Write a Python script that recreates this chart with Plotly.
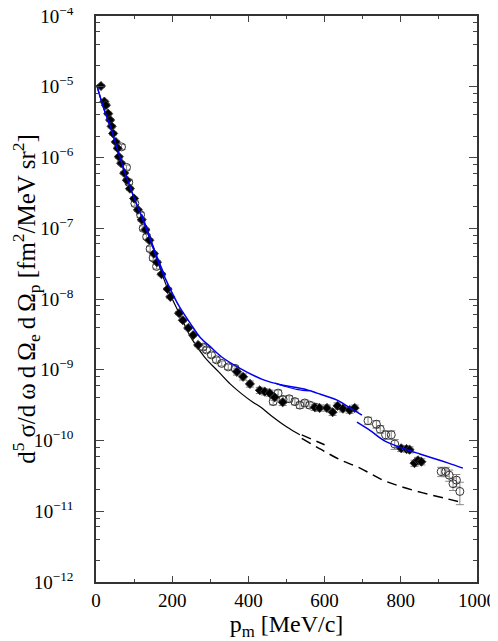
import plotly.graph_objects as go

# theory curves (log10 of cross section)
blue_p = [2, 20, 40, 60, 81, 100, 123, 145, 165, 194, 220, 247, 273, 299, 330, 378, 438, 491, 543, 580, 633, 667, 698]
blue_lg = [-4.98, -5.3, -5.6, -5.95, -6.29, -6.57, -6.88, -7.2, -7.5, -7.85, -8.12, -8.34, -8.54, -8.67, -8.82,
           -8.98, -9.14, -9.22, -9.27, -9.33, -9.43, -9.54, -9.64]
blue2_p = [120, 140, 160, 180]
blue2_lg = [-6.8, -7.1, -7.4, -7.66]
blue3_p = [470, 500, 530, 560]
blue3_lg = [-9.19, -9.24, -9.28, -9.3]
blue4_p = [685, 720, 753, 785, 816, 850, 885, 925, 963]
blue4_lg = [-9.74, -9.86, -9.99, -10.07, -10.13, -10.19, -10.25, -10.32, -10.39]

black_p = [2, 20, 40, 60, 81, 100, 123, 145, 165, 190, 220, 251, 285, 322, 352, 380, 412, 430, 460, 501, 535]
black_lg = [-4.98, -5.3, -5.6, -5.95, -6.29, -6.57, -6.88, -7.2, -7.52, -7.88, -8.22, -8.56, -8.82, -9.03, -9.2,
            -9.33, -9.46, -9.52, -9.65, -9.81, -9.92]
dash_p = [540, 592, 640, 693, 753, 806, 858, 911, 963]
dash_lg = [-9.97, -10.13, -10.27, -10.39, -10.56, -10.66, -10.74, -10.81, -10.88]
dash2_p = [540, 600]
dash2_lg = [-9.92, -10.06]

# data: filled diamonds
dia_p = [13, 22, 26, 32, 37, 41, 45, 52, 57, 60, 66, 74, 81, 89, 100, 110, 120, 130, 140, 152, 160, 172, 188, 195,
         218, 228, 242, 255, 268,
         370, 386, 404, 430, 443, 456, 469, 490, 574, 587, 606, 621, 634, 648, 666, 679,
         801, 815, 823, 836, 845, 854]
dia_lg = [-4.99, -5.21, -5.26, -5.38, -5.47, -5.56, -5.66, -5.78, -5.87, -5.99, -6.08, -6.22, -6.32, -6.44, -6.58,
          -6.74, -6.88, -7.02, -7.17, -7.36, -7.48, -7.65, -7.86, -7.97, -8.2, -8.3, -8.41, -8.51, -8.65,
          -9.03, -9.1, -9.2, -9.29, -9.31, -9.33, -9.39, -9.46, -9.53, -9.54, -9.54, -9.6, -9.51, -9.55, -9.57, -9.54,
          -10.11, -10.12, -10.13, -10.32, -10.28, -10.3]
dia_err = [5] * 29 + [10] * 16 + [10] * 6  # percent

# data: open circles
circ_p = [67, 80, 86, 102, 117, 124, 133, 142, 150, 159, 281, 290, 303, 316, 330, 347, 365,
          465, 478, 491, 507, 522, 535, 548, 561, 577,
          714, 736, 746, 760, 775, 784, 906, 918, 927, 937, 946, 955]
circ_lg = [-5.85, -6.14, -6.35, -6.65, -6.81, -7.0, -7.12, -7.29, -7.42, -7.54, -8.68, -8.72, -8.79, -8.86, -8.91,
           -8.96, -8.98,
           -9.45, -9.33, -9.42, -9.41, -9.45, -9.5, -9.47, -9.5, -9.53,
           -9.72, -9.77, -9.84, -9.92, -9.92, -10.05, -10.44, -10.44, -10.49, -10.61, -10.56, -10.72]
circ_err = [8] * 17 + [10] * 9 + [12, 12, 12, 14, 14, 16, 15, 15, 18, 20, 20, 35]

y_ticks = [-12, -11, -10, -9, -8, -7, -6, -5, -4]
x_ticks = [0, 200, 400, 600, 800, 1000]

font = "Liberation Serif"
fig = go.Figure()


def line(p, lg, color, dash="solid", width=1.4):
    fig.add_trace(go.Scatter(x=p, y=[10 ** v for v in lg], mode="lines", line_shape="spline",
                             line=dict(color=color, width=width, dash=dash), showlegend=False))


def points(p, lg, err, symbol, fill, size):
    v = [10 ** a for a in lg]
    fig.add_trace(go.Scatter(x=p, y=v, mode="markers", showlegend=False,
                             error_y=dict(type="data", array=[a * e / 100 for a, e in zip(v, err)],
                                          color="#888888", thickness=1, width=4),
                             marker=dict(symbol=symbol, size=size, color=fill,
                                         line=dict(color="#333333", width=1))))


line(black_p, black_lg, "black", width=1.2)
line(dash_p, dash_lg, "black", dash="10px,6px", width=1.5)
line(dash2_p, dash2_lg, "black", dash="10px,6px", width=1.5)
points(circ_p, circ_lg, circ_err, "circle-open", "#333333", 8)
points(dia_p, dia_lg, dia_err, "diamond", "black", 7)
line(blue_p, blue_lg, "#0000ee", width=1.5)
line(blue2_p, blue2_lg, "#0000ee", width=1.2)
line(blue3_p, blue3_lg, "#0000ee", width=1.2)
line(blue4_p, blue4_lg, "#0000ee", width=1.5)

minor_y = [m * 10.0 ** d for d in range(-12, -4) for m in (2, 4, 6, 8)]
ts = "\u2009"
ytitle = (f"d<sup>5</sup>{ts}σ/d{ts}ω{ts}d{ts}Ω<sub>e</sub>{ts}d{ts}Ω<sub>p</sub> "
          "[fm<sup>2</sup>/MeV sr<sup>2</sup>]")

# page body has an 8px default margin, so the figure is 8px smaller
fig.update_layout(
    width=490, height=633,
    margin=dict(l=88, r=21, t=8, b=59),
    plot_bgcolor="white", paper_bgcolor="white",
    font=dict(family=font, size=19, color="black"),
    xaxis=dict(range=[0, 1000], tickvals=x_ticks, ticks="inside", ticklen=6, tickwidth=1.2,
               minor=dict(dtick=100, ticks="inside", ticklen=3, tickwidth=1),
               showline=True, linecolor="#333333", linewidth=1.5, mirror="allticks", showgrid=False,
               zeroline=False, automargin=False, ticklabelstandoff=0, ticklabeloverflow="allow",
               title=dict(text="p<sub>m</sub> [MeV/c]", font=dict(size=24), standoff=6)),
    yaxis=dict(type="log", range=[-12, -4], tickvals=[10.0 ** t for t in y_ticks],
               ticktext=[f"10<sup>\u2212{-t}</sup>" for t in y_ticks],
               ticks="inside", ticklen=8, tickwidth=1.2,
               minor=dict(tickvals=minor_y, ticks="inside", ticklen=4, tickwidth=1),
               showline=True, linecolor="#333333", linewidth=1.5, mirror="allticks", showgrid=False,
               zeroline=False, automargin=False, ticklabelstandoff=17, ticklabeloverflow="allow",
               title=dict(text=ytitle, font=dict(size=25), standoff=4)),
)

fig.write_html("out.html")
